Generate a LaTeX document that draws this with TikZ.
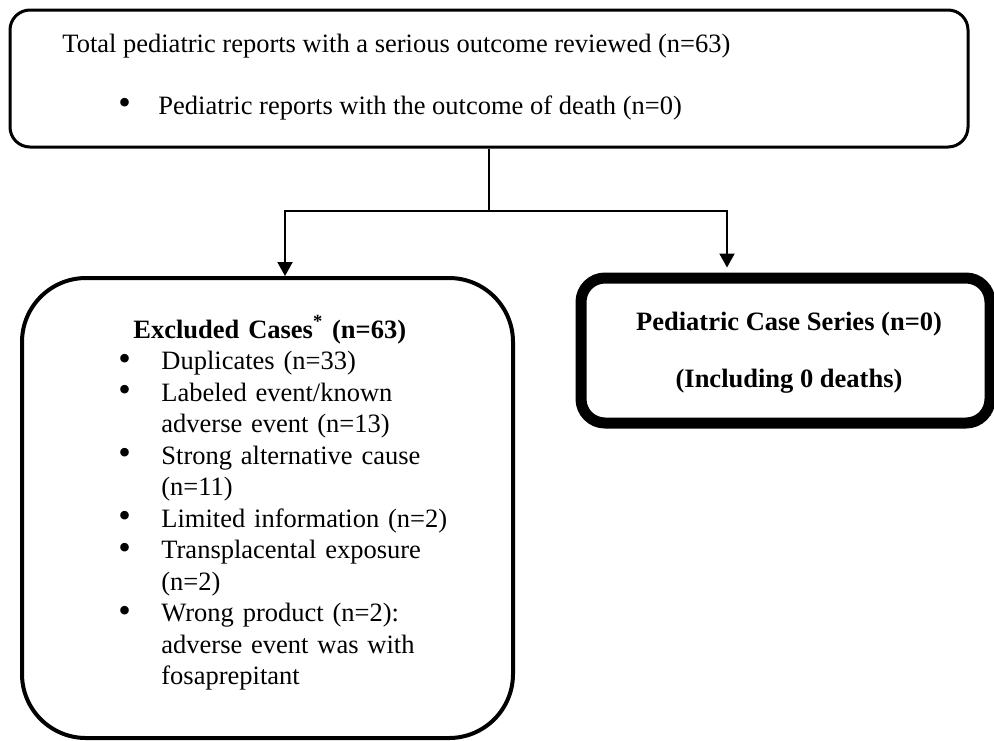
\documentclass[tikz,border=0pt]{standalone}
\usepackage{fontspec}
\setmainfont{Liberation Serif}
\usetikzlibrary{arrows.meta,positioning}
\newcommand{\bigdot}{\smash{\raisebox{-0.3pt}{\scalebox{1.35}{\textbullet}}}}
\newenvironment{caselist}{\begin{list}{\bigdot}{\setlength{\leftmargin}{21.5pt}\setlength{\labelwidth}{21.5pt}\setlength{\labelsep}{0pt}\setlength{\itemsep}{0pt}\setlength{\parsep}{0pt}\setlength{\topsep}{0pt}\setlength{\partopsep}{0pt}\renewcommand{\makelabel}[1]{##1\hfil}}\raggedright}{\end{list}}

\begin{document}
\begin{tikzpicture}[x=0.5pt, y=-0.5pt,
  box/.style={draw, line width=1.5pt, inner sep=0pt},
  txt/.style={inner sep=0pt, font=\fontsize{13.25}{15.75}\selectfont},
  link/.style={line width=1pt},
  >={Triangle[length=7pt,width=7.5pt]}]
\useasboundingbox (0,0) rectangle (994,740);

% Boxes
\node[box, rounded corners=10pt, minimum width=479pt, minimum height=68.5pt] (total) at (489,78.5) {};
\node[box, line width=2pt, rounded corners=32pt, minimum width=245.5pt, minimum height=230pt] (excluded) at (267.5,508) {};
\node[box, line width=5.5pt, rounded corners=12pt, minimum width=204.5pt, minimum height=72.5pt] (series) at (785.5,350.5) {};

% Text in top box
\node[txt, anchor=base west] (totaltxt) at (62,52) {Total pediatric reports with a serious outcome reviewed (n=63)};
\node[txt, anchor=base west] (deathtxt) at (118,114) {\makebox[20pt][l]{\bigdot}Pediatric reports with the outcome of death (n=0)};

% Text in excluded box
\node[txt, anchor=base west, text width=180pt, align=left] (exclist) at (118,338) {%
\hspace*{7.5pt}\textbf{Excluded Cases\textsuperscript{*} (n=63)}
\begin{caselist}
\item Duplicates (n=33)
\item Labeled event/known\newline adverse event (n=13)
\item Strong alternative cause\newline (n=11)
\item Limited information (n=2)
\item Transplacental exposure\newline (n=2)
\item Wrong product (n=2):\newline adverse event was with\newline fosaprepitant
\end{caselist}};

% Text in case series box
\node[txt, anchor=base] (seriestxt) at (789,330) {\textbf{Pediatric Case Series (n=0)}};
\node[txt, anchor=base] (deathstxt) at (789,387) {\textbf{(Including 0 deaths)}};

% Connectors
\coordinate (lft) at (285,211);
\coordinate (rgt) at (727,211);
\draw[link,->] (total.south) |- (lft) -- (lft |- excluded.north);
\draw[link,->, shorten >=2.5pt] (total.south |- lft) -- (rgt) -- (rgt |- series.north);
\end{tikzpicture}
\end{document}
